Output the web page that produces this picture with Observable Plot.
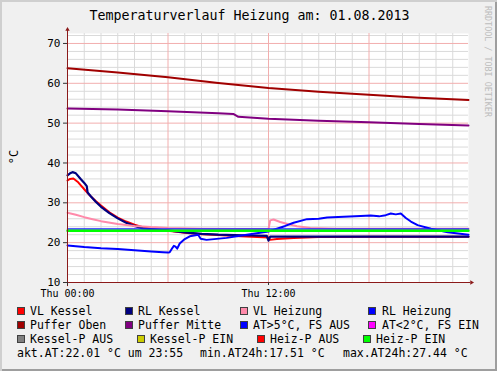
<!DOCTYPE html>
<html><head><meta charset="utf-8">
<script src="https://cdn.jsdelivr.net/npm/d3@7"></script>
<script src="https://cdn.jsdelivr.net/npm/@observablehq/plot@0.6"></script>
<style>
body{margin:0;background:#F0F0F0;}
#frame{position:relative;width:497px;height:371px;background:#F0F0F0;box-shadow:inset 2px 2px 0 #CFCFCF, inset -2px -2px 0 #9E9E9E;font-family:"DejaVu Sans Mono",monospace;color:#000;overflow:hidden;}
.abs{position:absolute;white-space:nowrap;}
.leg{font-size:11.5px;line-height:14px;}
.sq{position:absolute;width:6px;height:6px;border:1px solid #404040;}
#chart{position:absolute;left:0;top:20px;}
</style></head>
<body>
<div id="frame">
  <div class="abs" id="title" style="left:0;width:499px;top:8px;text-align:center;font-size:13.3px;line-height:16px;">Temperaturverlauf Heizung am: 01.08.2013</div>
  <div class="abs" style="left:483px;top:6px;writing-mode:vertical-rl;font-size:8.4px;color:#BDBDBD;letter-spacing:0px;">RRDTOOL / TOBI OETIKER</div>
  <div class="abs" style="left:14px;top:157px;font-size:12px;line-height:14px;transform:translate(-50%,-50%) rotate(-90deg);">°C</div>
  <div id="chart"></div>
  <div id="legend"></div>
</div>
<script>
// ---- data (hours since Thu 00:00, °C) ----
const hVLKessel = [0,0.15,0.35,0.6,1.0,1.3,1.7,2.0,2.5,3.0,3.5,4.0,4.5,5,6,7,8,9,10,11,12.0,12.08,12.5,13.5,15,18,21,23.94];
const vlKessel  = [35.6,36.0,36.1,35.3,33.4,32.0,30.4,29.3,27.6,26.3,25.3,24.5,23.9,23.5,23.0,22.5,22.1,21.9,21.7,21.5,21.3,20.7,20.9,21.2,21.4,21.5,21.5,21.5];

const hRLKessel = [0,0.15,0.3,0.5,0.8,1.0,1.15,1.2,1.4,1.7,2.0,2.5,3.0,3.5,4.0,4.5,5,6,7,8,9,10,11,11.9,12.0,12.1,13,18,23.94];
const rlKessel  = [36.9,37.4,37.7,37.4,35.9,35.0,34.2,32.6,31.6,30.2,29.0,27.4,26.1,25.0,24.2,23.6,23.4,23.1,22.6,22.2,22.0,21.9,21.8,21.7,20.5,21.5,21.5,21.5,21.5];

const hVLHeizung = [0,0.5,1,1.5,2,3,4,5,6,8,10,12.0,12.1,12.3,12.7,13.2,13.7,14.5,16,20,23.94];
const vlHeizung  = [27.5,27.0,26.4,25.9,25.4,24.7,24.2,23.9,23.7,23.5,23.4,23.4,25.6,25.8,25.2,24.6,24.1,23.7,23.5,23.5,23.5];

const hRLHeizung = [0,1,2,3,4,5,5.7,6.0,6.1,6.25,6.35,6.45,6.55,6.7,7.0,7.3,7.8,7.95,8.3,9.5,10.7,11.7,12.0,12.5,13.0,13.5,14.3,15.0,15.5,16.5,17.5,18.1,18.6,19.0,19.3,19.6,19.9,20.2,20.5,20.9,21.7,22.7,23.94];
const rlHeizung  = [19.3,18.9,18.6,18.4,18.1,17.8,17.6,17.5,17.6,18.6,19.2,19.0,18.5,19.8,20.9,21.6,22.0,21.0,20.7,21.2,22.0,22.6,22.8,23.5,24.2,25.0,25.9,26.0,26.3,26.5,26.7,26.8,26.6,26.9,27.3,27.1,27.3,26.2,25.3,24.4,23.5,22.6,22.0];

const hPufferOben = [0,3,6,9,12,15,18,21,23.94];
const pufferOben  = [63.8,62.7,61.5,60.1,58.8,57.9,57.1,56.4,55.8];

const hPufferMitte = [0,3,6,9,9.9,10.2,12,15,18,21,23.94];
const pufferMitte  = [53.7,53.4,53.0,52.5,52.3,51.6,51.1,50.6,50.2,49.8,49.4];

const hAT5 = [0,23.94];
const at5  = [23.4,23.4];

const hHeizPEin = [0,23.94];
const heizPEin  = [23.0,23.0];

// ---- axes / ticks ----
const xDomain = [0, 23.94];
const yDomain = [10, 72.5];
const xTicks = [0, 12];
const xTickLabels = ["Thu 00:00", "Thu 12:00"];
const yTicks = [10,20,30,40,50,60,70];
const xMajorGrid = [0,6,12,18];
const xMinorGrid = [1,2,3,4,5,7,8,9,10,11,13,14,15,16,17,19,20,21,22,23];
const yMinorGrid = [12,14,16,18,22,24,26,28,32,34,36,38,42,44,46,48,52,54,56,58,62,64,66,68,72];

// ---- legend ----
const legendNames = ["VL Kessel","RL Kessel","VL Heizung","RL Heizung","Puffer Oben","Puffer Mitte","AT>5°C, FS AUS","AT<2°C, FS EIN","Kessel-P AUS","Kessel-P EIN","Heiz-P AUS","Heiz-P EIN"];
const statTexts = ["akt.AT:22.01 °C um 23:55","min.AT24h:17.51 °C","max.AT24h:27.44 °C"];

// ---- styles ----
const legendColors = ["#FF0000","#000080","#FF8AAA","#0000FF","#A00000","#800080","#0000FF","#FF00FF","#808080","#CCCC00","#FF0000","#00FF00"];
const legendSquareX = [17,125,240,368, 17,125,240,368, 17,137,257,363];
const legendTextX   = [30,138,253,382, 30,138,253,382, 30,150,270,376];
const legendRowY    = [311,325,339];
const statX = [17,200,343];
const statY = 353;

const series = [
  {h:hVLKessel, v:vlKessel, color:"#FF0000", w:2},
  {h:hRLKessel, v:rlKessel, color:"#000080", w:2.2},
  {h:hVLHeizung, v:vlHeizung, color:"#FF8AAA", w:2},
  {h:hRLHeizung, v:rlHeizung, color:"#0000FF", w:2},
  {h:hPufferOben, v:pufferOben, color:"#A00000", w:2},
  {h:hPufferMitte, v:pufferMitte, color:"#800080", w:2},
  {h:hAT5, v:at5, color:"#2020FF", w:1.5},
  {h:hHeizPEin, v:heizPEin, color:"#00FF00", w:2.5}
];

const axisColor = "#8B1A1A";
const axisLines = [
  {x1: xDomain[0]-0.25, x2: xDomain[1]+0.1, y1: yDomain[0], y2: yDomain[0]},
  {x1: xDomain[0], x2: xDomain[0], y1: yDomain[0]-0.9, y2: yDomain[1]+0.9}
];
const arrowHeads = [
  {x: xDomain[1]+0.18, y: yDomain[0], rot: 90},
  {x: xDomain[0], y: yDomain[1]+1.0, rot: 0}
];

const marks = [
  Plot.frame({fill:"#FFFFFF", stroke:"none"}),
  Plot.ruleX(xMinorGrid, {stroke:"#DADADA", strokeWidth:1}),
  Plot.ruleY(yMinorGrid, {stroke:"#DADADA", strokeWidth:1}),
  Plot.ruleX(xMajorGrid, {stroke:"#F2AEAE", strokeWidth:1}),
  Plot.ruleY(yTicks, {stroke:"#F2AEAE", strokeWidth:1}),
  ...series.map(s => Plot.line(s.h.map((h,i)=>({h, v:s.v[i]})), {x:"h", y:"v", stroke:s.color, strokeWidth:s.w, strokeLinejoin:"round", strokeLinecap:"round"})),
  Plot.link(axisLines, {x1:"x1", x2:"x2", y1:"y1", y2:"y2", stroke:axisColor, strokeWidth:1}),
  Plot.dot(arrowHeads, {x:"x", y:"y", rotate:"rot", symbol:"triangle2", r:2.1, fill:axisColor, stroke:"none"}),
  Plot.axisY({ticks:yTicks, tickSize:4, tickPadding:3, fontSize:11, stroke:"#333"}),
  Plot.axisX({ticks:xTicks, tickFormat:d => xTickLabels[xTicks.indexOf(d)], tickSize:3, tickPadding:4, fontSize:10, stroke:"#333"})
];

const chart = Plot.plot({
  width: 497, height: 282,
  marginLeft: 67, marginRight: 29, marginTop: 13, marginBottom: 20,
  x: {domain: xDomain},
  y: {domain: yDomain},
  style: {fontFamily:"DejaVu Sans Mono", background:"transparent", overflow:"visible", color:"#000"},
  marks
});
document.getElementById("chart").appendChild(chart);

// legend
const leg = document.getElementById("legend");
legendNames.forEach((name, i) => {
  const row = Math.floor(i/4);
  const cy = legendRowY[row];
  const sq = document.createElement("div");
  sq.className = "sq";
  sq.style.left = legendSquareX[i] + "px";
  sq.style.top = (cy - 4) + "px";
  sq.style.background = legendColors[i];
  leg.appendChild(sq);
  const t = document.createElement("div");
  t.className = "abs leg";
  t.style.left = legendTextX[i] + "px";
  t.style.top = (cy - 7) + "px";
  t.textContent = name;
  leg.appendChild(t);
});
statTexts.forEach((s, i) => {
  const t = document.createElement("div");
  t.className = "abs leg";
  t.style.left = statX[i] + "px";
  t.style.top = (statY - 7) + "px";
  t.textContent = s;
  leg.appendChild(t);
});
</script>
</body></html>
